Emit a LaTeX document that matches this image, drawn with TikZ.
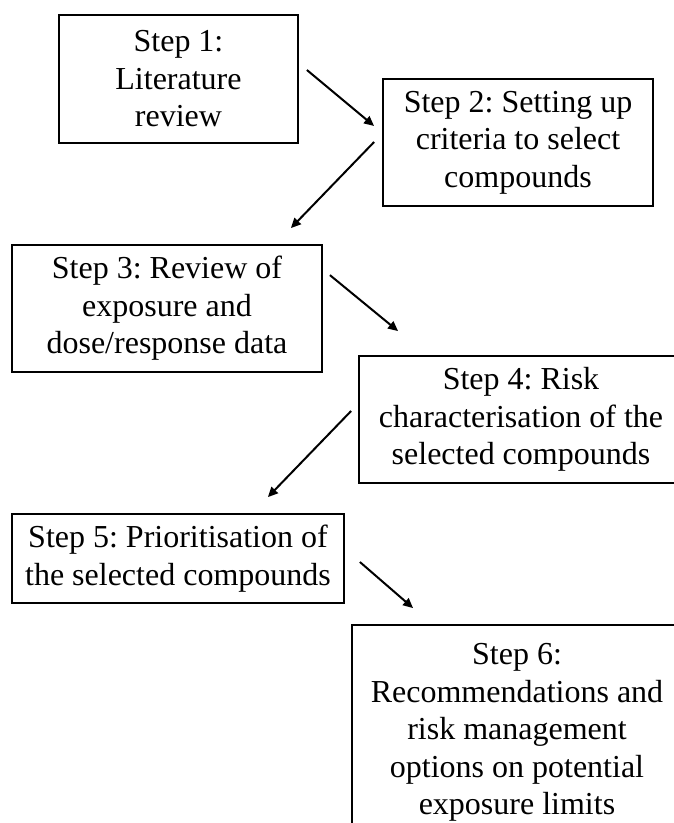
\documentclass[tikz,border=0pt]{standalone}
\usepackage{fontspec}
\setmainfont{Liberation Serif}
\usetikzlibrary{arrows.meta}
\frenchspacing

\begin{document}
\begin{tikzpicture}[x=1pt, y=1pt,
		stepbox/.style={rectangle, draw, line width=1.8pt, align=center, inner sep=0pt,
			font=\fontsize{32}{37.5}\selectfont},
		arr/.style={line width=2pt, -{Triangle[length=10pt,width=9pt]}}]
			\useasboundingbox (0,0) rectangle (674,-823);
			\clip (0,0) rectangle (674,-823);
			
			\node[stepbox, minimum width=239pt, minimum height=128pt] (s1) at (178.5,-79) {Step 1:\\ Literature\\ review};
			\node[stepbox, minimum width=270pt, minimum height=127pt] (s2) at (518,-142.5) {Step 2: Setting up\\ criteria to select\\ compounds};
			\draw[arr] ([shift={(8,9)}]s1.east) -- ([shift={(-8,16.5)}]s2.west);
			
			\node[stepbox, minimum width=310pt, minimum height=127pt] (s3) at (167,-308.5) {Step 3: Review of\\ exposure and\\ dose/response data};
			\draw[arr] ([shift={(-8,0.5)}]s2.west) -- ([shift={(-32,16)}]s3.north east);
			
			\node[stepbox, minimum width=324pt, minimum height=127pt] (s4) at (521,-419.5) {Step 4: Risk\\ characterisation of the\\ selected compounds};
			\draw[arr] ([shift={(7,-31)}]s3.north east) -- ([shift={(40,24)}]s4.north west);
			
			\node[stepbox, minimum width=332pt, minimum height=89pt] (s5) at (178,-558.5) {Step 5: Prioritisation of\\ the selected compounds};
			\draw[arr] ([shift={(-7,8.5)}]s4.west) -- ([shift={(-77,16)}]s5.north east);
			
			\node[stepbox, minimum width=330pt, minimum height=215pt] (s6) at (517,-732.5) {Step 6:\\ Recommendations and\\ risk management\\ options on potential\\ exposure limits};
			\draw[arr] ([shift={(15,-3.5)}]s5.east) -- ([shift={(62,16)}]s6.north west);
		\end{tikzpicture}
\end{document}
